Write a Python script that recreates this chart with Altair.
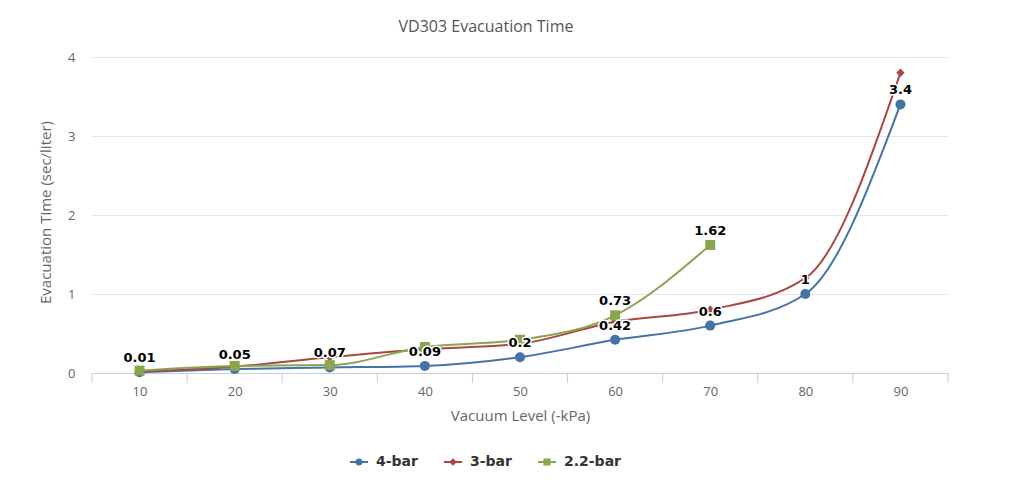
import altair as alt
import pandas as pd

# ---- data ----
categories = [10, 20, 30, 40, 50, 60, 70, 80, 90]
series_names = ["4-bar", "3-bar", "2.2-bar"]
values_4bar = [0.01, 0.05, 0.07, 0.09, 0.2, 0.42, 0.6, 1, 3.4]
values_3bar = [0.02, 0.08, 0.2, 0.3, 0.37, 0.65, 0.8, 1.2, 3.8]
values_22bar = [0.03, 0.09, 0.1, 0.33, 0.42, 0.73, 1.62]
labels_4bar = [True, True, True, True, True, True, True, True, True]
labels_3bar = [False] * 9
labels_22bar = [False, False, False, False, False, True, True]

colors = ["#4572A7", "#AA4643", "#89A54E"]
shapes = ["circle", "diamond", "square"]
marker_sizes = [100, 70, 100]
# legend symbols: line + marker as unit-square paths
legend_paths = [
    "M-1,-0.12H1V0.12H-1Z M0.4,0A0.4,0.4 0 1,1 -0.4,0A0.4,0.4 0 1,1 0.4,0Z",
    "M-1,-0.12H1V0.12H-1Z M0,-0.42L0.42,0L0,0.42L-0.42,0Z",
    "M-1,-0.12H1V0.12H-1Z M-0.4,-0.4H0.4V0.4H-0.4Z",
]

rows = []
for name, vals, labs in [
    ("4-bar", values_4bar, labels_4bar),
    ("3-bar", values_3bar, labels_3bar),
    ("2.2-bar", values_22bar, labels_22bar),
]:
    for c, v, l in zip(categories, vals, labs):
        rows.append({"vac": c, "time": v, "series": name, "show": l})
df = pd.DataFrame(rows)

step = categories[1] - categories[0]
boundaries = [c - step / 2 for c in categories] + [categories[-1] + step / 2]
bdf = pd.DataFrame({"b": boundaries})

W, H = 856, 316
FONT = "Open Sans"
BOLD_FONT = "DejaVu Sans"

xscale = alt.Scale(domain=[boundaries[0], boundaries[-1]], nice=False, zero=False)
yscale = alt.Scale(domain=[0, 4], nice=False)
cscale = alt.Scale(domain=series_names, range=colors)

x_axis = alt.Axis(
    values=categories,
    title="Vacuum Level (-kPa)",
    grid=False,
    ticks=False,
    tickSize=0,
    labelPadding=12,
    labelFont=FONT,
    labelFontSize=13,
    labelColor="#666666",
    domainColor="#C0D0E0",
    domainWidth=1,
    titleFont=FONT,
    titleFontSize=15,
    titleFontWeight="normal",
    titleColor="#666666",
    titleY=42,
    titleBaseline="middle",
)
x_enc = alt.X("vac:Q", scale=xscale, axis=x_axis)
y_enc = alt.Y(
    "time:Q",
    scale=yscale,
    axis=alt.Axis(
        values=[0, 1, 2, 3, 4],
        title="Evacuation Time (sec/liter)",
        grid=True,
        gridColor="#E6E6E6",
        domain=False,
        ticks=False,
        labelPadding=17,
        labelFont=FONT,
        labelFontSize=13,
        labelColor="#666666",
        titleFont=FONT,
        titleFontSize=15,
        titleFontWeight="normal",
        titleColor="#666666",
        titleX=-47,
        titleY=155,
        titleBaseline="middle",
        format="d",
    ),
)

base = alt.Chart(df)

line_layers = []
point_layers = []
for name, col, shp, sz in zip(series_names, colors, shapes, marker_sizes):
    sub = base.transform_filter(alt.datum.series == name)
    line_layers.append(
        sub.mark_line(interpolate="monotone", strokeWidth=2, color=col).encode(x=x_enc, y=y_enc)
    )
    point_layers.append(
        sub.mark_point(shape=shp, filled=True, size=sz, opacity=1, color=col).encode(x=x_enc, y=y_enc)
    )

ticks = alt.Chart(bdf).mark_rule(color="#C0D0E0", strokeWidth=1).encode(
    x=alt.X("b:Q", scale=xscale, axis=x_axis),
    y=alt.value(H),
    y2=alt.value(H + 10),
)

label_halo = base.transform_filter(alt.datum.show).mark_text(
    font=BOLD_FONT, fontSize=13, fontWeight="bold", dy=-14, baseline="middle",
    stroke="white", strokeWidth=3, strokeJoin="round", fill="white",
).encode(x=x_enc, y=y_enc, text=alt.Text("time:Q"))

label_text = base.transform_filter(alt.datum.show).mark_text(
    font=BOLD_FONT, fontSize=13, fontWeight="bold", dy=-14, baseline="middle",
    color="#000000",
).encode(x=x_enc, y=y_enc, text=alt.Text("time:Q"))

legend_props = dict(
    title=None,
    orient="none",
    direction="horizontal",
    legendX=258,
    legendY=396,
    symbolSize=324,
    symbolStrokeWidth=0,
    labelFont=BOLD_FONT,
    labelFontSize=14,
    labelFontWeight="bold",
    labelColor="#333333",
    labelOffset=8,
    columnPadding=26,
)

legend_layer = base.transform_filter("datum.time < -100").mark_point(
    filled=True, opacity=1, size=324
).encode(
    x=x_enc,
    y=y_enc,
    color=alt.Color("series:N", scale=cscale, legend=alt.Legend(**legend_props)),
    shape=alt.Shape(
        "series:N",
        scale=alt.Scale(domain=series_names, range=legend_paths),
        legend=alt.Legend(**legend_props),
    ),
)

chart = (
    alt.layer(*line_layers, *point_layers, ticks, label_halo, label_text, legend_layer)
    .properties(
        width=W,
        height=H,
        view=alt.ViewBackground(stroke="#FFFFFF", strokeWidth=0, strokeOpacity=0),
        title=alt.TitleParams(
            "VD303 Evacuation Time",
            anchor="middle",
            font=FONT,
            fontSize=16,
            fontWeight="normal",
            color="#555555",
            offset=16,
            dx=-34,
        ),
        autosize=alt.AutoSizeParams(type="none"),
        padding={"left": 84, "top": 49, "right": 40, "bottom": 118},
    )
    .configure_view(stroke="#FFFFFF", strokeWidth=0, strokeOpacity=0)
    .configure(background="white")
)

chart.save("out.html", embed_options={"renderer": "svg", "actions": False})
